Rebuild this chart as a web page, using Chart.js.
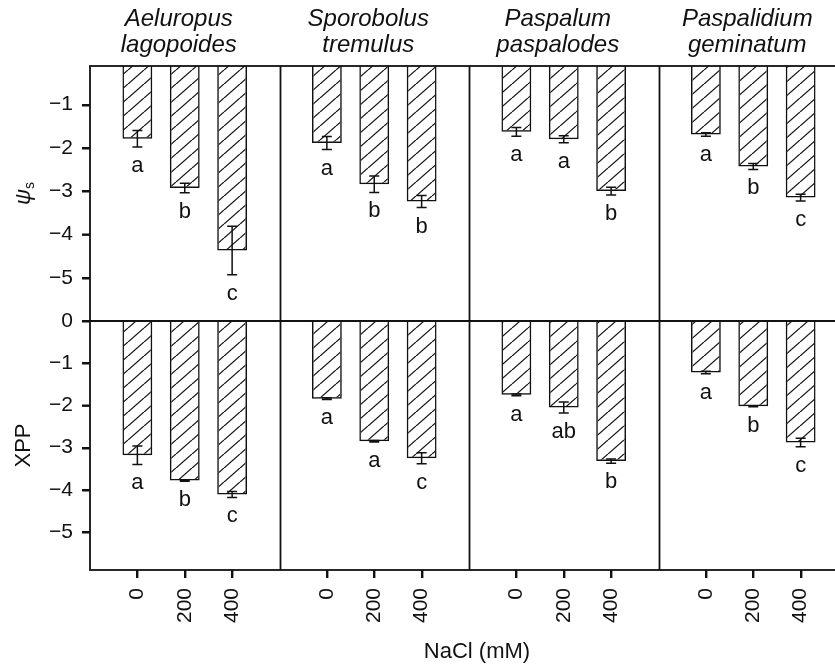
<!DOCTYPE html>
<html>
<head>
<meta charset="utf-8">
<script src="https://cdn.jsdelivr.net/npm/chart.js@4.4.1/dist/chart.umd.min.js"></script>
<style>
  html, body { margin: 0; padding: 0; background: #fff; overflow: hidden; }
  #wrap { position: relative; width: 835px; height: 664px; overflow: hidden; }
  canvas { position: absolute; left: 0; }
  #chart-top { top: 0; }
  #chart-bottom { top: 300px; }
</style>
</head>
<body>
<div id="wrap">
  <canvas id="chart-top" width="860" height="323"></canvas>
  <canvas id="chart-bottom" width="860" height="364"></canvas>
</div>
<script>
// ----- Data -----
const speciesLine1 = ['Aeluropus', 'Sporobolus', 'Paspalum', 'Paspalidium'];
const speciesLine2 = ['lagopoides', 'tremulus', 'paspalodes', 'geminatum'];
const naclLevels = ['0', '200', '400'];

// osmotic potential (psi s), 3 NaCl levels per species
const psiMean = [-1.79, -2.93, -4.37, -1.89, -2.84, -3.24, -1.63, -1.80, -3.00, -1.69, -2.43, -3.15];
const psiErr = [0.19, 0.11, 0.56, 0.15, 0.19, 0.14, 0.10, 0.08, 0.09, 0.04, 0.07, 0.08];
const psiLetters = ['a', 'b', 'c', 'a', 'b', 'b', 'a', 'a', 'b', 'a', 'b', 'c'];

// xylem pressure potential
const xppMean = [-3.18, -3.78, -4.11, -1.84, -2.85, -3.25, -1.75, -2.05, -3.32, -1.22, -2.02, -2.88];
const xppErr = [0.22, 0.02, 0.07, 0.02, 0.02, 0.13, 0.02, 0.13, 0.05, 0.03, 0.01, 0.10];
const xppLetters = ['a', 'b', 'c', 'a', 'a', 'c', 'a', 'ab', 'b', 'a', 'b', 'c'];

const psiTicks = [-1, -2, -3, -4, -5];
const xppTicks = [0, -1, -2, -3, -4, -5];

// bar positions: 4 units per species panel, bars at 1,2,3 inside each
const xPos = [];
speciesLine1.forEach((s, p) => naclLevels.forEach((n, i) => xPos.push(p * 4 + i + 1)));
const panelEdges = [4, 8, 12];

const INK = '#111';
const FONT = '"Liberation Sans", Arial, Helvetica, sans-serif';
Chart.defaults.font.family = FONT;
Chart.defaults.color = INK;

function hatchPattern() {
  const w = 16, h = 14;
  const c = document.createElement('canvas');
  c.width = w; c.height = h;
  const g = c.getContext('2d');
  g.strokeStyle = '#1a1a1a';
  g.lineWidth = 1.3;
  g.beginPath();
  g.moveTo(0, h); g.lineTo(w, 0);
  g.moveTo(-w, h); g.lineTo(0, 0);
  g.moveTo(w, h); g.lineTo(2 * w, 0);
  g.stroke();
  return g.createPattern(c, 'repeat');
}

function fmt(v) {
  return v === 0 ? '0' : '\u2212' + Math.abs(v);
}

function noPad(scale) {
  scale.paddingTop = 0;
  scale.paddingBottom = 0;
  scale.paddingLeft = 0;
  scale.paddingRight = 0;
}

// ----- Plugin: frame, panel dividers, error bars, letters, labels -----
const panelPlugin = {
  id: 'panels',
  afterDatasetsDraw(chart, args, opts) {
    const { ctx, chartArea: a, scales: { x, y } } = chart;
    ctx.save();

    // error bars
    ctx.strokeStyle = INK;
    ctx.lineWidth = 1.5;
    opts.means.forEach((m, i) => {
      const px = x.getPixelForValue(xPos[i]);
      const y1 = y.getPixelForValue(m + opts.errs[i]);
      const y2 = y.getPixelForValue(m - opts.errs[i]);
      ctx.beginPath();
      ctx.moveTo(px, y1); ctx.lineTo(px, y2);
      ctx.moveTo(px - 5, y1); ctx.lineTo(px + 5, y1);
      ctx.moveTo(px - 5, y2); ctx.lineTo(px + 5, y2);
      ctx.stroke();
    });

    // significance letters
    ctx.fillStyle = INK;
    ctx.font = '22px ' + FONT;
    ctx.textAlign = 'center';
    ctx.textBaseline = 'alphabetic';
    opts.letters.forEach((t, i) => {
      const px = x.getPixelForValue(xPos[i]);
      const py = y.getPixelForValue(opts.means[i] - opts.errs[i]) + 25;
      ctx.fillText(t, px, py);
    });

    // frame + dividers
    ctx.lineWidth = 1.8;
    ctx.strokeRect(a.left, a.top, a.right - a.left, a.bottom - a.top);
    ctx.beginPath();
    panelEdges.forEach(v => {
      const px = Math.round(x.getPixelForValue(v)) + 0.5;
      ctx.moveTo(px, a.top); ctx.lineTo(px, a.bottom);
    });
    ctx.stroke();
    ctx.restore();
  },
  afterDraw(chart, args, opts) {
    const { ctx, chartArea: a, scales: { x, y } } = chart;

    // tick marks outside the frame
    ctx.save();
    ctx.strokeStyle = INK;
    ctx.lineWidth = 1.8;
    ctx.beginPath();
    y.ticks.forEach(t => {
      const py = Math.round(y.getPixelForValue(t.value)) + 0.5;
      ctx.moveTo(a.left - 8, py); ctx.lineTo(a.left, py);
    });
    if (opts.xTicks) {
      x.ticks.forEach(t => {
        const px = Math.round(x.getPixelForValue(t.value)) + 0.5;
        ctx.moveTo(px, a.bottom); ctx.lineTo(px, a.bottom + 8);
      });
    }
    ctx.stroke();
    ctx.restore();

    ctx.save();
    ctx.fillStyle = INK;

    // y axis title, rotated
    ctx.translate(24, (a.top + a.bottom) / 2);
    ctx.rotate(-Math.PI / 2);
    ctx.textBaseline = 'middle';
    ctx.textAlign = 'left';
    if (opts.psi) {
      ctx.font = 'italic 22px ' + FONT;
      const w1 = ctx.measureText('\u03c8').width;
      ctx.font = 'italic 14px ' + FONT;
      const w2 = ctx.measureText('s').width;
      const x0 = -(w1 + w2) / 2;
      ctx.font = 'italic 22px ' + FONT;
      ctx.fillText('\u03c8', x0, 0);
      ctx.font = '14px ' + FONT;
      ctx.fillText('s', x0 + w1, 6);
    } else {
      ctx.font = '22px ' + FONT;
      ctx.textAlign = 'center';
      ctx.fillText(opts.yTitle, 0, 0);
    }
    ctx.restore();

    ctx.save();
    ctx.fillStyle = INK;
    ctx.textAlign = 'center';
    ctx.textBaseline = 'alphabetic';
    if (opts.psi) {
      ctx.font = 'italic 24px ' + FONT;
      speciesLine1.forEach((s, p) => {
        const cx = x.getPixelForValue(p * 4 + 2) - 6;
        ctx.fillText(s, cx, 26);
        ctx.fillText(speciesLine2[p], cx, 52);
      });
    } else {
      ctx.font = '22px ' + FONT;
      ctx.fillText('NaCl (mM)', 477, 358);
    }
    ctx.restore();
  },
};

function makeChart(id, cfg) {
  const ctx = document.getElementById(id).getContext('2d');
  return new Chart(ctx, {
    type: 'bar',
    data: {
      datasets: [{
        data: cfg.means.map((v, i) => ({ x: xPos[i], y: v })),
        backgroundColor: hatchPattern(),
        borderColor: INK,
        borderWidth: 1.5,
        barPercentage: 0.63,
        categoryPercentage: 1,
      }],
    },
    options: {
      responsive: false,
      animation: false,
      events: [],
      layout: { padding: { top: cfg.padTop, bottom: cfg.padBottom, left: 0, right: 12 } },
      scales: {
        x: {
          type: 'linear',
          min: 0,
          max: 16,
          offset: false,
          display: cfg.showX,
          afterBuildTicks: (scale) => { scale.ticks = xPos.map(v => ({ value: v })); },
          afterFit: (scale) => { noPad(scale); if (cfg.showX) scale.height = 94; },
          border: { display: false },
          grid: { offset: false, drawOnChartArea: false, drawTicks: true, tickLength: 8, color: INK, lineWidth: 1.8 },
          ticks: {
            minRotation: 90,
            maxRotation: 90,
            padding: 10,
            font: { size: 21 },
            color: INK,
            callback: (v) => naclLevels[(v - 1) % 4],
          },
        },
        y: {
          min: cfg.yMin,
          max: cfg.yMax,
          afterBuildTicks: (scale) => { scale.ticks = cfg.yTicks.map(v => ({ value: v })); },
          afterFit: (scale) => { noPad(scale); scale.width = 90; },
          border: { display: false },
          grid: { drawOnChartArea: false, drawTicks: true, tickLength: 8, color: INK, lineWidth: 1.8 },
          ticks: { padding: 9, font: { size: 21 }, color: INK, callback: (v) => fmt(v) },
        },
      },
      plugins: {
        legend: { display: false },
        tooltip: { enabled: false },
        panels: cfg.plugin,
      },
    },
    plugins: [panelPlugin],
  });
}

// ----- Init -----
makeChart('chart-top', {
  means: psiMean, yMin: -6, yMax: -0.11, yTicks: psiTicks,
  padTop: 66, padBottom: 2, showX: false,
  plugin: { means: psiMean, errs: psiErr, letters: psiLetters, psi: true, xTicks: false },
});
makeChart('chart-bottom', {
  means: xppMean, yMin: -5.9, yMax: 0, yTicks: xppTicks,
  padTop: 21, padBottom: 0, showX: true,
  plugin: { means: xppMean, errs: xppErr, letters: xppLetters, psi: false, yTitle: 'XPP', xTicks: true },
});
</script>
</body>
</html>
